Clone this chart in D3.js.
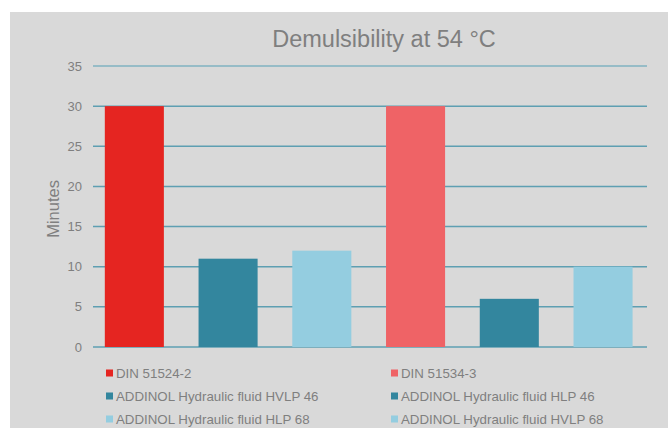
<!DOCTYPE html>
<html>
<head>
<meta charset="utf-8">
<script src="https://cdn.jsdelivr.net/npm/d3@7"></script>
<style>
  body { margin: 0; background: #fff; }
  svg { display: block; font-family: "Liberation Sans", Arial, sans-serif; }
</style>
</head>
<body>
<svg class="chart" width="668" height="428"></svg>
<script>
// one bar per series, as in the source chart
const seriesNames = [
  'DIN 51524-2',
  'ADDINOL Hydraulic fluid HVLP 46',
  'ADDINOL Hydraulic fluid HLP 68',
  'DIN 51534-3',
  'ADDINOL Hydraulic fluid HLP 46',
  'ADDINOL Hydraulic fluid HVLP 68'
]
const minutes = [30, 11, 12, 30, 6, 10]
const barColors = ['#e52521', '#33869e', '#94cde0', '#ef6366', '#33869e', '#94cde0']
const yTicks = [0, 5, 10, 15, 20, 25, 30, 35]
// legend is read row by row, two columns
const legendOrder = [0, 3, 1, 4, 2, 5]

const svg = d3.select('.chart')
const width = +svg.attr('width')
const height = +svg.attr('height')
const margin = {top: 66, right: 21, bottom: 81, left: 93}
const textColor = '#7f7f7f'

svg.append('rect')
    .attr('x', 10).attr('y', 12)
    .attr('width', width - 10).attr('height', height - 12)
    .attr('fill', '#d9d9d9')

const x = d3.scaleBand()
    .domain(d3.range(seriesNames.length))
    .range([margin.left, width - margin.right])
    .paddingInner(0.37)
    .paddingOuter(0.14)
    .align(0.45)

const y = d3.scaleLinear()
    .domain([0, 35])
    .range([height - margin.bottom, margin.top])

// gridlines
svg.append('g')
  .selectAll('line')
  .data(yTicks)
  .enter().append('line')
    .attr('x1', margin.left)
    .attr('x2', width - margin.right)
    .attr('y1', d => y(d))
    .attr('y2', d => y(d))
    .attr('stroke', d => d === 35 ? '#7fb2c0' : '#5e9fb2')
    .attr('stroke-width', 1.5)

// tick labels
svg.append('g')
  .selectAll('text')
  .data(yTicks)
  .enter().append('text')
    .attr('x', 82)
    .attr('y', d => y(d))
    .attr('dy', '0.35em')
    .attr('text-anchor', 'end')
    .attr('font-size', 13)
    .attr('fill', textColor)
    .text(d => d)

svg.append('g')
  .selectAll('rect')
  .data(minutes)
  .enter().append('rect')
    .attr('x', (d, i) => x(i))
    .attr('y', d => y(d))
    .attr('width', x.bandwidth())
    .attr('height', d => y(0) - y(d))
    .attr('fill', (d, i) => barColors[i])

svg.append('text')
    .attr('x', 384)
    .attr('y', 47)
    .attr('text-anchor', 'middle')
    .attr('font-size', 23.5)
    .attr('fill', textColor)
    .text('Demulsibility at 54 °C')

svg.append('text')
    .attr('transform', 'translate(59,' + y(17.2) + ') rotate(-90)')
    .attr('text-anchor', 'middle')
    .attr('font-size', 16.5)
    .attr('fill', textColor)
    .text('Minutes')

// legend
const legendCols = [106, 391]
const legendRows = [373, 396, 419]
const legend = svg.append('g')
  .selectAll('g')
  .data(legendOrder)
  .enter().append('g')
    .attr('transform', (d, k) =>
      'translate(' + legendCols[k % 2] + ',' + legendRows[Math.floor(k / 2)] + ')')

legend.append('rect')
    .attr('x', 0).attr('y', -3.5)
    .attr('width', 7).attr('height', 7)
    .attr('fill', d => barColors[d])

legend.append('text')
    .attr('x', 10)
    .attr('dy', '0.36em')
    .attr('font-size', 13.3)
    .attr('fill', textColor)
    .text(d => seriesNames[d])
</script>
</body>
</html>
